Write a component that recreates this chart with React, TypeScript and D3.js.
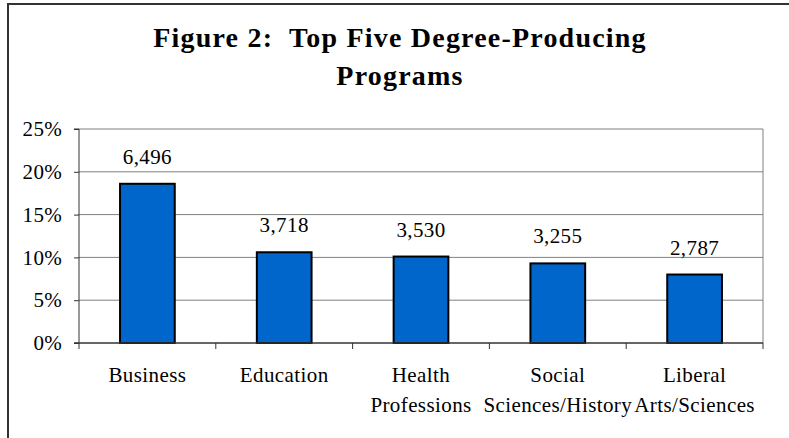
import React, { useRef, useEffect } from 'react';
import * as d3 from 'd3';

// chart data
const categories = [
  ['Business'],
  ['Education'],
  ['Health', 'Professions'],
  ['Social', 'Sciences/History'],
  ['Liberal', 'Arts/Sciences'],
];
const shares = [18.6, 10.6, 10.1, 9.3, 8.0];
const counts = ['6,496', '3,718', '3,530', '3,255', '2,787'];
const yTicks = [0, 5, 10, 15, 20, 25];
const titleLines = ['Figure 2:  Top Five Degree-Producing', 'Programs'];

const W = 789;
const H = 438;
const FONT = '"Liberation Serif", "Times New Roman", serif';

const App = () => {
  const ref = useRef<SVGSVGElement | null>(null);

  useEffect(() => {
    if (!ref.current) return;
    const svg = d3.select(ref.current);
    svg.selectAll('*').remove();

    const plot = { left: 79, right: 763, top: 129, bottom: 343 };

    // outer frame (clipped at right and bottom like the source)
    svg
      .append('rect')
      .attr('x', 8)
      .attr('y', 4)
      .attr('width', W + 20)
      .attr('height', H + 20)
      .attr('fill', '#fff')
      .attr('stroke', '#333')
      .attr('stroke-width', 2);

    // title
    svg
      .append('g')
      .selectAll('text')
      .data(titleLines)
      .enter()
      .append('text')
      .attr('x', 400)
      .attr('y', (d, i) => 47 + i * 38)
      .attr('text-anchor', 'middle')
      .attr('font-family', FONT)
      .attr('font-weight', 'bold')
      .attr('font-size', 28)
      .attr('letter-spacing', 1.2)
      .style('white-space', 'pre')
      .text((d) => d);

    const x = d3
      .scaleBand<number>()
      .domain(d3.range(categories.length))
      .range([plot.left, plot.right])
      .padding(0);
    const y = d3.scaleLinear().domain([0, 25]).range([plot.bottom, plot.top]);

    // gridlines
    svg
      .append('g')
      .selectAll('line')
      .data(yTicks.slice(1))
      .enter()
      .append('line')
      .attr('x1', plot.left)
      .attr('x2', plot.right)
      .attr('y1', (d) => y(d))
      .attr('y2', (d) => y(d))
      .attr('stroke', '#808080')
      .attr('stroke-width', 1);

    // plot right border
    svg
      .append('line')
      .attr('x1', plot.right)
      .attr('x2', plot.right)
      .attr('y1', plot.top)
      .attr('y2', plot.bottom)
      .attr('stroke', '#808080');

    // bars
    const barW = x.bandwidth() * 0.4;
    svg
      .append('g')
      .selectAll('rect')
      .data(shares)
      .enter()
      .append('rect')
      .attr('x', (d, i) => (x(i) as number) + (x.bandwidth() - barW) / 2)
      .attr('y', (d) => y(d))
      .attr('width', barW)
      .attr('height', (d) => y(0) - y(d))
      .attr('fill', '#0066cc')
      .attr('stroke', '#000')
      .attr('stroke-width', 2);

    // value labels
    svg
      .append('g')
      .selectAll('text')
      .data(shares)
      .enter()
      .append('text')
      .attr('x', (d, i) => (x(i) as number) + x.bandwidth() / 2)
      .attr('y', (d) => y(d) - 20)
      .attr('text-anchor', 'middle')
      .attr('font-family', FONT)
      .attr('font-size', 21)
      .attr('letter-spacing', 0.4)
      .text((d, i) => counts[i]);

    // y axis
    const yAxis = d3
      .axisLeft(y)
      .tickValues(yTicks)
      .tickSize(5)
      .tickPadding(12)
      .tickFormat((d) => d + '%');
    const yAxisGroup = svg
      .append('g')
      .attr('transform', `translate(${plot.left},0)`)
      .call(yAxis);
    yAxisGroup.select('.domain').attr('stroke', '#333').attr('d', `M-5,${plot.top}H0V${plot.bottom}`);
    yAxisGroup.selectAll('.tick line').attr('stroke', '#333');
    yAxisGroup
      .selectAll('text')
      .attr('font-family', FONT)
      .attr('font-size', 21)
      .attr('letter-spacing', 0.3)
      .attr('fill', '#000');

    // x axis line and ticks at category boundaries
    svg
      .append('line')
      .attr('x1', plot.left - 5)
      .attr('x2', plot.right)
      .attr('y1', plot.bottom)
      .attr('y2', plot.bottom)
      .attr('stroke', '#333')
      .attr('stroke-width', 1.5);
    svg
      .append('g')
      .selectAll('line')
      .data(d3.range(categories.length + 1))
      .enter()
      .append('line')
      .attr('x1', (d) => plot.left + d * x.step())
      .attr('x2', (d) => plot.left + d * x.step())
      .attr('y1', plot.bottom)
      .attr('y2', plot.bottom + 6)
      .attr('stroke', '#333');

    // category labels
    const labels = svg
      .append('g')
      .selectAll('text')
      .data(categories)
      .enter()
      .append('text')
      .attr('text-anchor', 'middle')
      .attr('font-family', FONT)
      .attr('font-size', 21)
      .attr('letter-spacing', 0.4);
    labels
      .selectAll('tspan')
      .data((d, i) => d.map((s) => ({ s, i })))
      .enter()
      .append('tspan')
      .attr('x', (d) => (x(d.i) as number) + x.bandwidth() / 2)
      .attr('y', (d, j) => 382 + j * 30)
      .text((d) => d.s);
  }, []);

  return (
    <div style={{ position: 'fixed', left: 0, top: 0 }}>
      <svg ref={ref} width={W} height={H} style={{ display: 'block' }} />
    </div>
  );
};

export default App;
